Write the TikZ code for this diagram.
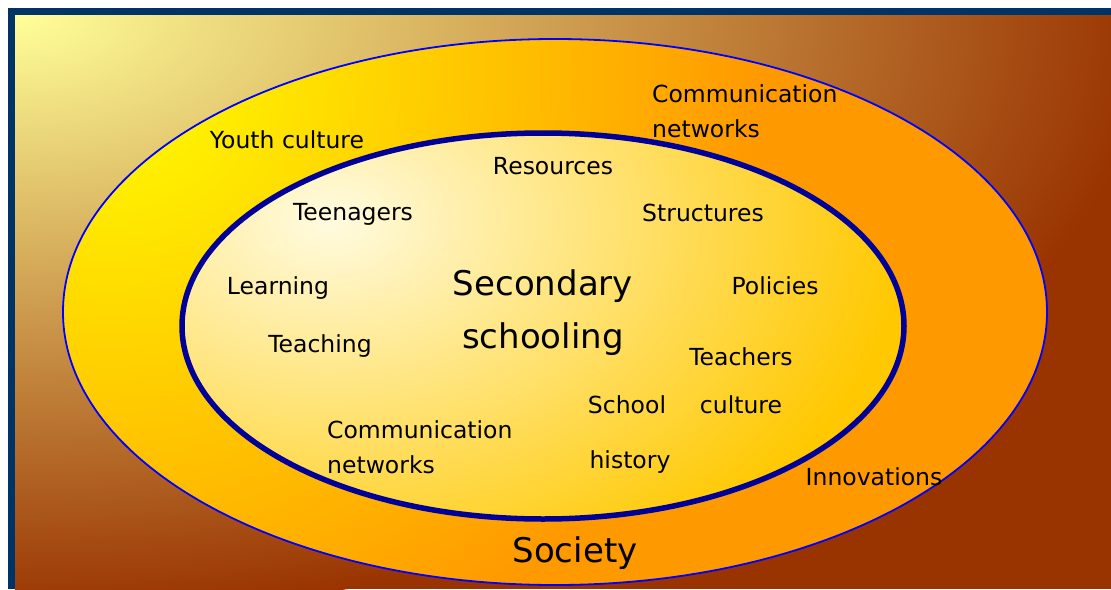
\documentclass[tikz,border=0pt]{standalone}
\usepackage{fontspec}
\setmainfont{DejaVu Sans}
\definecolor{bgIn}{HTML}{FFFF99}
\definecolor{bgOut}{HTML}{993300}
\definecolor{frameBlue}{HTML}{003366}
\definecolor{outIn}{HTML}{FFFF00}
\definecolor{outOut}{HTML}{FF9900}
\definecolor{innIn}{HTML}{FFFBE0}
\definecolor{innOut}{HTML}{FFC800}
\definecolor{navyLine}{HTML}{000099}
\tikzset{
  lbl/.style={font=\fontsize{23.5}{28}\selectfont, inner sep=0pt, text=black},
  biglbl/.style={font=\fontsize{34}{40}\selectfont, inner sep=0pt, text=black},
}
\begin{document}
\begin{tikzpicture}[x=1pt, y=-1pt]
\useasboundingbox (0,0) rectangle (1111,589);
\fill[white] (0,0) rectangle (1111,589);
% frame
\fill[frameBlue] (8,8) rectangle (1111,589);
\begin{scope}
  \clip (15,15) rectangle (1111,589);
  \fill[bgOut] (15,15) rectangle (1111,589);
  \shade[inner color=bgIn, outer color=bgOut] (15,15) ellipse [x radius=1140pt, y radius=600pt];
\end{scope}
% outer ellipse (Society)
\begin{scope}
  \clip (555,312) ellipse [x radius=492pt, y radius=273pt];
  \fill[outOut] (555,312) ellipse [x radius=492pt, y radius=273pt];
  \shade[inner color=outIn, outer color=outOut] (110,70) circle [radius=650pt];
\end{scope}
\draw[blue, line width=1.8pt] (555,312) ellipse [x radius=492pt, y radius=273pt];
% inner ellipse (Secondary schooling)
\begin{scope}
  \clip (543,326) ellipse [x radius=361pt, y radius=193pt];
  \fill[innOut] (543,326) ellipse [x radius=361pt, y radius=193pt];
  \shade[inner color=innIn, outer color=innOut] (330,220) ellipse [x radius=580pt, y radius=400pt];
\end{scope}
\draw[navyLine, line width=5.5pt] (543,326) ellipse [x radius=361pt, y radius=193pt];
% outer labels
\node[lbl, anchor=base west] (comout1) at (652,102) {Communication};
\node[lbl, anchor=base west] (comout2) at (652,137) {networks};
\node[lbl, anchor=base] (youth) at (287,148) {Youth culture};
\node[lbl, anchor=base] (innov) at (874,485) {Innovations};
\node[biglbl, anchor=base] (society) at (575,562) {Society};
% inner labels
\node[lbl, anchor=base] (resources) at (553,174) {Resources};
\node[lbl, anchor=base] (teenagers) at (353,220) {Teenagers};
\node[lbl, anchor=base] (structures) at (703,221) {Structures};
\node[lbl, anchor=base] (learning) at (278,294) {Learning};
\node[lbl, anchor=base] (policies) at (775,294) {Policies};
\node[lbl, anchor=base] (teaching) at (320,352) {Teaching};
\node[lbl, anchor=base] (teachers) at (741,365) {Teachers};
\node[lbl, anchor=base] (school) at (627,413) {School};
\node[lbl, anchor=base] (culture) at (741,413) {culture};
\node[lbl, anchor=base] (history) at (630,468) {history};
\node[lbl, anchor=base west] (comin1) at (327,438) {Communication};
\node[lbl, anchor=base west] (comin2) at (327,473) {networks};
\node[biglbl, anchor=base] (secondary) at (543,295) {Secondary};
\node[biglbl, anchor=base] (schooling) at (543,348) {schooling};
\end{tikzpicture}
\end{document}
